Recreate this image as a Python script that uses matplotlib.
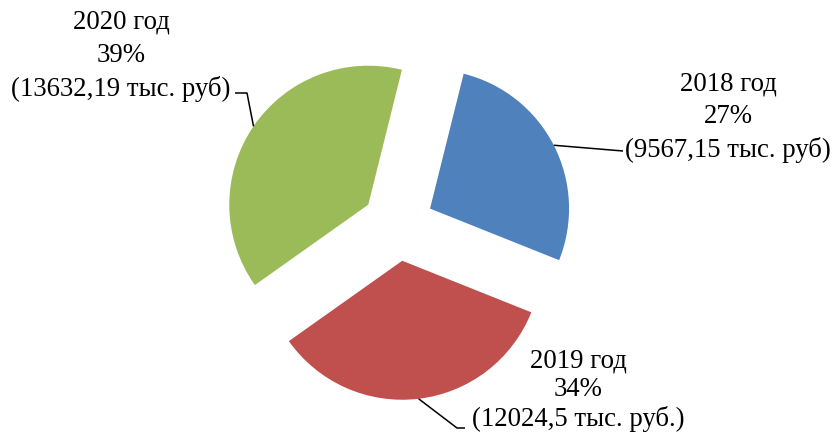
import numpy as np
import matplotlib
matplotlib.use('Agg')
import matplotlib.pyplot as plt

# data
years = ['2018 год', '2019 год', '2020 год']
values = [9567.15, 12024.5, 13632.19]
value_labels = ['9567,15 тыс. руб', '12024,5 тыс. руб.', '13632,19 тыс. руб']
colors = ['#4F81BD', '#C0504D', '#9BBB59']

plt.rcParams['font.family'] = ['Liberation Serif', 'DejaVu Serif']

W, H = 835, 432
fig = plt.figure(figsize=(W / 100, H / 100), dpi=100)
ax = fig.add_axes([0, 0, 1, 1])

radius = 139
center = (398, H - 225)
# explode is in data units here (pixels)
wedges, _ = ax.pie(values, colors=colors, startangle=76, counterclock=False,
                   explode=[36] * 3, radius=radius, center=center,
                   wedgeprops=dict(linewidth=0))
ax.set_xlim(0, W)
ax.set_ylim(0, H)
ax.set_aspect('equal')
ax.axis('off')

total = sum(values)
# label text centres, line spacing and leader elbow/end points (image px, y down)
text_pos = [(728, 117), (578, 390), (121, 56)]
spacing = [1.4, 1.2, 1.42]
leaders = [[(623, 151)],
           [(457, 428), (465, 428)],
           [(247, 93), (235, 93)]]

for w, yr, v, vl, tp, ls, pts in zip(wedges, years, values, value_labels,
                                     text_pos, spacing, leaders):
    mid = np.deg2rad((w.theta1 + w.theta2) / 2)
    cx, cy = w.center
    ax_pt = (cx + w.r * np.cos(mid), cy + w.r * np.sin(mid))
    xs = [ax_pt[0]] + [p[0] for p in pts]
    ys = [ax_pt[1]] + [H - p[1] for p in pts]
    ax.plot(xs, ys, color='black', lw=1.1, solid_capstyle='butt')
    pct = round(v / total * 100)
    ax.text(tp[0], H - tp[1], f'{yr}\n{pct}%\n({vl})', ha='center', va='center',
            multialignment='center', fontsize=19.3, linespacing=ls)

fig.savefig('out.png', dpi=100)
